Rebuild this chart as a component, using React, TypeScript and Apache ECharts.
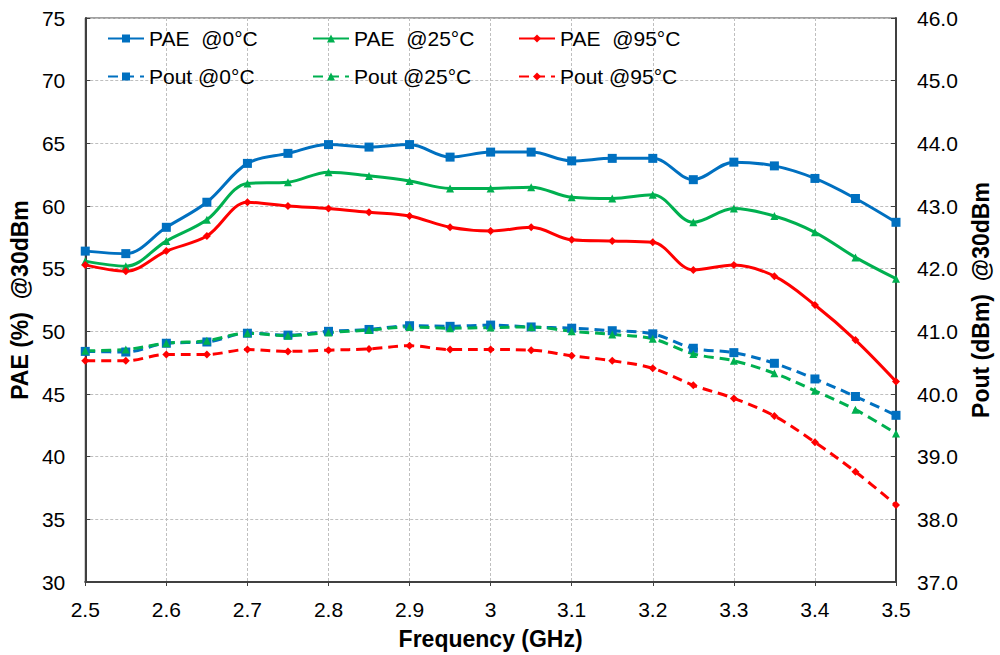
import React, { useEffect, useRef } from "react";
import * as echarts from "echarts";

const freq = [2.5, 2.55, 2.6, 2.65, 2.7, 2.75, 2.8, 2.85, 2.9, 2.95, 3.0, 3.05, 3.1, 3.15, 3.2, 3.25, 3.3, 3.35, 3.4, 3.45, 3.5];

const pae0 = [56.4, 56.2, 58.3, 60.3, 63.4, 64.2, 64.9, 64.7, 64.9, 63.9, 64.3, 64.3, 63.6, 63.8, 63.8, 62.1, 63.5, 63.2, 62.2, 60.6, 58.7];
const pae25 = [55.6, 55.2, 57.2, 58.9, 61.8, 61.9, 62.7, 62.4, 62.0, 61.4, 61.4, 61.5, 60.7, 60.6, 60.9, 58.7, 59.8, 59.2, 57.9, 55.9, 54.2];
const pae95 = [55.3, 54.8, 56.4, 57.6, 60.3, 60.0, 59.8, 59.5, 59.2, 58.3, 58.0, 58.3, 57.3, 57.2, 57.1, 54.9, 55.3, 54.4, 52.1, 49.3, 46.0];

const pout0 = [40.68, 40.67, 40.81, 40.83, 40.97, 40.94, 41.0, 41.03, 41.09, 41.08, 41.1, 41.07, 41.05, 41.01, 40.96, 40.73, 40.66, 40.49, 40.24, 39.96, 39.66];
const pout25 = [40.69, 40.71, 40.81, 40.85, 40.97, 40.93, 40.98, 41.02, 41.07, 41.05, 41.06, 41.07, 41.0, 40.95, 40.88, 40.64, 40.53, 40.33, 40.05, 39.75, 39.37];
const pout95 = [40.53, 40.53, 40.63, 40.63, 40.71, 40.68, 40.7, 40.72, 40.77, 40.71, 40.71, 40.7, 40.61, 40.53, 40.41, 40.14, 39.93, 39.65, 39.23, 38.76, 38.23];

const names = {
  pae0: "PAE  @0°C",
  pae25: "PAE  @25°C",
  pae95: "PAE  @95°C",
  pout0: "Pout @0°C",
  pout25: "Pout @25°C",
  pout95: "Pout @95°C",
};

const BLUE = "#0070C0";
const GREEN = "#00B050";
const RED = "#FF0000";
const FONT = "'Liberation Sans', Arial, sans-serif";

const toPairs = (vals: number[]) => vals.map((v, i) => [freq[i], v]);

export default function App() {
  const ref = useRef<HTMLDivElement>(null);

  useEffect(() => {
    if (!ref.current) return;
    const chart = echarts.init(ref.current, undefined, { renderer: "svg" });

    const mk = (name: string, vals: number[], color: string, symbol: string, size: number, dashed: boolean, yIdx: number) => ({
      name,
      type: "line",
      yAxisIndex: yIdx,
      data: toPairs(vals),
      smooth: 0.35,
      symbol,
      symbolSize: size,
      showSymbol: true,
      itemStyle: { color, borderWidth: 0 },
      lineStyle: { color, width: 3, type: dashed ? [10, 6] : "solid" },
      z: dashed ? 2 : 3,
    });

    const legendBase = {
      orient: "vertical",
      top: 28,
      itemWidth: 36,
      itemHeight: 10,
      itemGap: 17,
      textStyle: { fontFamily: FONT, fontSize: 21, color: "#000" },
      padding: 0,
    };

    const gridLine = { show: true, lineStyle: { color: "#BFBFBF", width: 1, type: [3, 2] } };
    const axisLine = { show: true, onZero: false, lineStyle: { color: "#404040", width: 2 } };
    const labelStyle = { fontFamily: FONT, fontSize: 21, color: "#000" };
    const titleStyle = { fontFamily: FONT, fontSize: 23, fontWeight: "bold", color: "#000" };

    chart.setOption({
      animation: false,
      backgroundColor: "#fff",
      grid: {
        left: 83,
        right: 97,
        top: 18,
        bottom: 73,
        show: true,
        borderColor: "#404040",
        borderWidth: 1,
      },
      legend: [
        { ...legendBase, left: 107, data: [names.pae0, names.pout0] },
        { ...legendBase, left: 312, data: [names.pae25, names.pout25] },
        { ...legendBase, left: 518, data: [names.pae95, names.pout95] },
      ],
      xAxis: {
        type: "value",
        min: 2.5,
        max: 3.5,
        interval: 0.1,
        name: "Frequency (GHz)",
        nameLocation: "middle",
        nameGap: 45,
        nameTextStyle: titleStyle,
        axisLine,
        axisTick: { show: true, inside: false, length: 4, lineStyle: { color: "#404040" } },
        axisLabel: { ...labelStyle, margin: 17, formatter: (v: number) => String(Math.round(v * 10) / 10) },
        splitLine: gridLine,
      },
      yAxis: [
        {
          type: "value",
          min: 30,
          max: 75,
          interval: 5,
          position: "left",
          name: "PAE (%)  @30dBm",
          nameLocation: "middle",
          nameGap: 51,
          nameTextStyle: titleStyle,
          axisLine,
          axisTick: { show: true, inside: true, length: 5, lineStyle: { color: "#404040" } },
          axisLabel: { ...labelStyle, margin: 20 },
          splitLine: gridLine,
        },
        {
          type: "value",
          min: 37,
          max: 46,
          interval: 1,
          position: "right",
          name: "Pout (dBm)  @30dBm",
          nameLocation: "middle",
          nameGap: 73,
          nameRotate: 90,
          nameTextStyle: titleStyle,
          axisLine,
          axisTick: { show: true, inside: true, length: 5, lineStyle: { color: "#404040" } },
          axisLabel: { ...labelStyle, margin: 21, formatter: (v: number) => v.toFixed(1) },
          splitLine: { show: false },
        },
      ],
      series: [
        mk(names.pout0, pout0, BLUE, "rect", 9, true, 1),
        mk(names.pout25, pout25, GREEN, "triangle", 8, true, 1),
        mk(names.pout95, pout95, RED, "diamond", 8, true, 1),
        mk(names.pae0, pae0, BLUE, "rect", 9, false, 0),
        mk(names.pae25, pae25, GREEN, "triangle", 8, false, 0),
        mk(names.pae95, pae95, RED, "diamond", 8, false, 0),
      ],
    });

    return () => chart.dispose();
  }, []);

  return (
    <div
      ref={ref}
      style={{ position: "fixed", left: 0, top: 0, width: 1000, height: 655, background: "#fff" }}
    />
  );
}
